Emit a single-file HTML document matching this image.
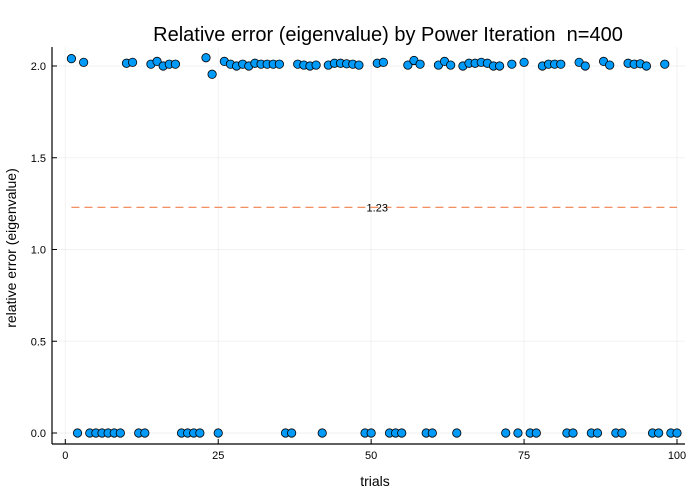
<!DOCTYPE html>
<html><head><meta charset="utf-8"><style>
body{margin:0;background:#fff}
svg{display:block;font-family:"Liberation Sans",sans-serif}
</style></head><body>
<svg id="chart" width="700" height="500">
<text x="388" y="41" font-size="20" text-anchor="middle" fill="#000" style="white-space:pre">Relative error (eigenvalue) by Power Iteration  n=400</text>
<g id="grid"></g>
<g id="axes"></g>
<g id="marks"></g>
<text x="375" y="486" font-size="14" text-anchor="middle">trials</text>
<text transform="translate(16,248) rotate(-90)" font-size="14" text-anchor="middle">relative error (eigenvalue)</text>
</svg>
<script>
const trials=[];for(let i=1;i<=100;i++)trials.push(i);
const values=[2.04,0,2.02,0,0,0,0,0,0,2.015,2.02,0,0,2.01,2.025,2.0,2.01,2.01,0,0,0,0,2.045,1.955,0,2.025,2.01,2.0,2.01,2.0,2.015,2.01,2.01,2.01,2.01,0,0,2.01,2.005,2.0,2.005,0,2.005,2.015,2.015,2.012,2.01,2.005,0,0,2.015,2.02,0,0,0,2.005,2.03,2.01,0,0,2.005,2.025,2.005,0,2.0,2.015,2.015,2.02,2.015,2.0,2.0,0,2.01,0,2.02,0,0,2.0,2.01,2.01,2.01,0,0,2.02,2.0,0,0,2.025,2.005,0,0,2.015,2.01,2.012,2.0,0,0,2.01,0,0];
const meanValue=[1.23];
const xTicks=[0,25,50,75,100];
const yTicks=[0,0.5,1.0,1.5,2.0];
const yTickLabels=["0.0","0.5","1.0","1.5","2.0"];
const NS="http://www.w3.org/2000/svg";
const X=v=>65.3+v*6.117, Y=v=>433-v*183.5;
function mk(tag,attrs,parent,txt){const e=document.createElementNS(NS,tag);for(const k in attrs)e.setAttribute(k,attrs[k]);if(txt!==undefined)e.textContent=txt;parent.appendChild(e);return e;}
const grid=document.getElementById('grid'),axes=document.getElementById('axes'),marks=document.getElementById('marks');
const L=52,R=685,T=47,B=444;
xTicks.forEach(t=>{const g=mk('line',{x1:X(t),x2:X(t),y1:T,y2:B,stroke:'#000','stroke-opacity':0.05,'stroke-width':1},grid);


const tk=mk('line',{x1:X(t),x2:X(t),y1:B,y2:B-5,stroke:'#000'},axes);


const lb=mk('text',{x:X(t),y:B+15,'font-size':11,'text-anchor':'middle'},axes,String(t));

});
yTicks.forEach((t,i)=>{const g=mk('line',{x1:L,x2:R,y1:Y(t),y2:Y(t),stroke:'#000','stroke-opacity':0.05,'stroke-width':1},grid);


const tk=mk('line',{x1:L,x2:L+5,y1:Y(t),y2:Y(t),stroke:'#000'},axes);


const lb=mk('text',{x:L-6,y:Y(t)+4,'font-size':11,'text-anchor':'end'},axes,yTickLabels[i]);

});
const ax1=mk('line',{x1:L,x2:L,y1:T,y2:B,stroke:'#000','stroke-width':1.2},axes);


const ax2=mk('line',{x1:L,x2:R,y1:B,y2:B,stroke:'#000','stroke-width':1.2},axes);


const ml=mk('line',{x1:X(1),x2:X(100),y1:Y(meanValue[0]),y2:Y(meanValue[0]),stroke:'#f0804f','stroke-width':1.2,'stroke-dasharray':'8,5'},marks);


const mlab=mk('text',{x:X(51),y:Y(meanValue[0])+4,'font-size':11,'text-anchor':'middle'},marks,meanValue[0].toFixed(2));


values.forEach((v,i)=>{const c=mk('circle',{cx:X(trials[i]),cy:Y(v),r:4.2,fill:'#009af9',stroke:'#000','stroke-width':0.8},marks);

});
</script>
</body></html>
